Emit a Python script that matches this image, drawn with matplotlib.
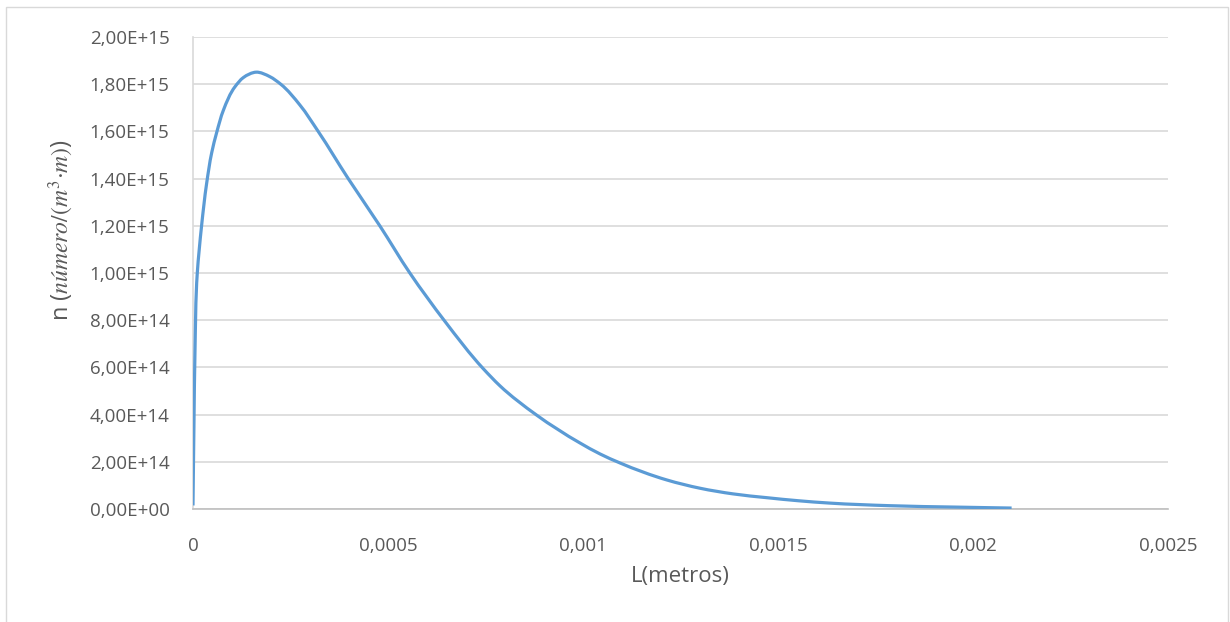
import matplotlib
matplotlib.use("Agg")
import numpy as np
import matplotlib.pyplot as plt
from matplotlib.ticker import FuncFormatter
from matplotlib.patches import Rectangle, PathPatch
from matplotlib.path import Path

# Data
L_m = [0.0, 2.6e-6, 5e-6, 1.1e-5, 2.2e-5, 3.5e-5, 4.8e-5, 6.1e-5, 7.8e-5, 1.08e-4,
       1.29e-4, 1.62e-4, 1.97e-4, 2.25e-4, 2.74e-4, 3.21e-4, 3.98e-4, 4.79e-4,
       5.56e-4, 6.46e-4, 7.44e-4, 7.87e-4, 8.81e-4, 9.92e-4, 1.044e-3, 1.095e-3,
       1.215e-3, 1.30e-3, 1.385e-3, 1.471e-3, 1.552e-3, 1.633e-3, 1.787e-3,
       1.958e-3, 2.099e-3]
n_vals = [1.5e13, 3.8e14, 6.6e14, 1.0e15, 1.2e15, 1.38e15, 1.51e15, 1.597e15, 1.69e15,
          1.79e15, 1.828e15, 1.851e15, 1.832e15, 1.80e15, 1.712e15, 1.60e15, 1.40e15,
          1.20e15, 1.0e15, 7.95e14, 5.95e14, 5.22e14, 3.98e14, 2.8e14, 2.33e14, 1.95e14,
          1.23e14, 8.8e13, 6.4e13, 4.8e13, 3.5e13, 2.5e13, 1.4e13, 8e12, 4e12]
x_ticks = [0, 0.0005, 0.001, 0.0015, 0.002, 0.0025]
x_tick_labels = ["0", "0,0005", "0,001", "0,0015", "0,002", "0,0025"]
y_ticks = [i * 2e14 for i in range(11)]

plt.rcParams['font.family'] = ['Open Sans', 'DejaVu Sans']
plt.rcParams['mathtext.fontset'] = 'stix'

W, H = 1230, 622
fig = plt.figure(figsize=(W / 100, H / 100), dpi=100)
ax = fig.add_axes([193 / W, 1 - 509 / H, (1168 - 193) / W, (509 - 37) / H])

XMAX, YMAX = 0.0025, 2e15
ax.set_xlim(0, XMAX)
ax.set_ylim(0, YMAX)


def smooth_path(xs, ys):
    """Smoothed line through the points: cubic Bezier segments with
    chord-length parameterised tangents (Excel-style smoothing)."""
    P = np.column_stack([xs, ys]).astype(float)
    Q = P / [XMAX, YMAX] * [975.0, 472.0]          # roughly pixel space
    n = len(Q)
    h = np.linalg.norm(np.diff(Q, axis=0), axis=1)
    h[h == 0] = 1e-9
    d = np.diff(Q, axis=0) / h[:, None]
    m = np.zeros_like(Q)
    m[0] = d[0]
    m[-1] = d[-1]
    for i in range(1, n - 1):
        m[i] = (d[i - 1] * h[i] + d[i] * h[i - 1]) / (h[i - 1] + h[i])
    verts = [Q[0]]
    codes = [Path.MOVETO]
    for i in range(n - 1):
        c1 = Q[i] + m[i] * h[i] / 3.0
        c2 = Q[i + 1] - m[i + 1] * h[i] / 3.0
        verts += [c1, c2, Q[i + 1]]
        codes += [Path.CURVE4] * 3
    V = np.array(verts) / [975.0, 472.0] * [XMAX, YMAX]
    return Path(V, codes)


patch = PathPatch(smooth_path(L_m, n_vals), facecolor='none', edgecolor='#5B9BD5',
                  lw=2.3, zorder=3, capstyle='butt', joinstyle='round')
ax.add_patch(patch)

ax.set_xticks(x_ticks)
ax.set_xticklabels(x_tick_labels)
ax.set_yticks(y_ticks)
ax.yaxis.set_major_formatter(FuncFormatter(lambda v, p: f"{v:.2E}".replace('.', ',')))
ax.grid(axis='y', color='#d9d9d9', lw=1.2)
ax.set_axisbelow(True)
for s in ['top', 'right']:
    ax.spines[s].set_visible(False)
ax.spines['left'].set_color('#d9d9d9')
ax.spines['bottom'].set_color('#bfbfbf')
ax.spines['left'].set_linewidth(1.2)
ax.spines['bottom'].set_linewidth(1.2)
ax.tick_params(axis='both', length=0, labelsize=13.5, colors='#595959')
ax.tick_params(axis='x', pad=20)
ax.tick_params(axis='y', pad=17)

ax.set_xlabel("L(metros)", fontsize=16, color='#595959', labelpad=8)
ax.set_ylabel(r"n ($número/(m^3{\cdot}m)$)", fontsize=17, color='#595959')
ax.yaxis.set_label_coords(-0.12, (509 - 230) / 472)

fig.patches.append(Rectangle((6 / W, -0.01), (1228 - 6) / W, 1 - 7 / H + 0.01,
                             transform=fig.transFigure, fill=False,
                             edgecolor='#d9d9d9', lw=1))

fig.savefig("out.png", dpi=100)
